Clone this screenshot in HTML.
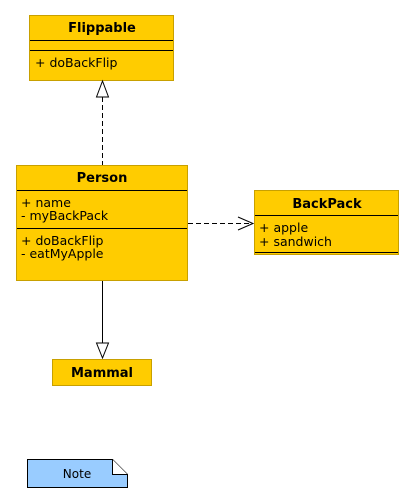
<!DOCTYPE html>
<html><head><style>
html,body{margin:0;padding:0;background:#fff;}
svg{display:block;}
text{font-family:"DejaVu Sans","Liberation Sans",sans-serif;font-size:12.5px;fill:#000;}
.b{font-weight:bold;font-size:13px;}
</style></head><body>
<svg width="415" height="502" viewBox="0 0 415 502" xmlns="http://www.w3.org/2000/svg">
<rect x="29.5" y="15.5" width="144" height="65" fill="#ffcc00" stroke="#c8a000"/>
<line x1="30" y1="40.5" x2="173" y2="40.5" stroke="#000"/>
<line x1="30" y1="50.5" x2="173" y2="50.5" stroke="#000"/>
<text class="b" x="102" y="32" text-anchor="middle">Flippable</text>
<text x="35" y="67">+ doBackFlip</text>

<line x1="102.5" y1="97" x2="102.5" y2="165" stroke="#000" stroke-dasharray="5,3"/>
<polygon points="102.5,81 96.5,97 108.5,97" fill="#fff" stroke="#000"/>

<rect x="16.5" y="165.5" width="171" height="115" fill="#ffcc00" stroke="#c8a000"/>
<line x1="17" y1="190.5" x2="187" y2="190.5" stroke="#000"/>
<line x1="17" y1="228.5" x2="187" y2="228.5" stroke="#000"/>
<text class="b" x="102" y="182" text-anchor="middle">Person</text>
<text x="21" y="207">+ name</text>
<text x="21" y="220">- myBackPack</text>
<text x="21" y="245">+ doBackFlip</text>
<text x="21" y="258">- eatMyApple</text>

<line x1="188" y1="223.5" x2="253" y2="223.5" stroke="#000" stroke-dasharray="5,3"/>
<polyline points="238,217 253,223.5 238,230" fill="none" stroke="#000"/>

<rect x="254.5" y="190.5" width="144" height="64" fill="#ffcc00" stroke="#c8a000"/>
<line x1="255" y1="215.5" x2="398" y2="215.5" stroke="#000"/>
<line x1="255" y1="252.5" x2="398" y2="252.5" stroke="#000"/>
<text class="b" x="327" y="208" text-anchor="middle">BackPack</text>
<text x="259" y="232">+ apple</text>
<text x="259" y="246">+ sandwich</text>

<line x1="102.5" y1="281" x2="102.5" y2="343" stroke="#000"/>
<polygon points="102.5,358 96.5,343 108.5,343" fill="#fff" stroke="#000"/>

<rect x="52.5" y="359.5" width="99" height="26" fill="#ffcc00" stroke="#c8a000"/>
<text class="b" x="102" y="377" text-anchor="middle">Mammal</text>

<path d="M27.5,459.5 H112.5 L127.5,474.5 V487.5 H27.5 Z" fill="#99ccff" stroke="#000"/>
<path d="M112.5,459.5 V474.5 H127.5" fill="#fff" stroke="#000"/>
<text x="77" y="478" text-anchor="middle" style="font-size:12px">Note</text>
</svg>
</body></html>
